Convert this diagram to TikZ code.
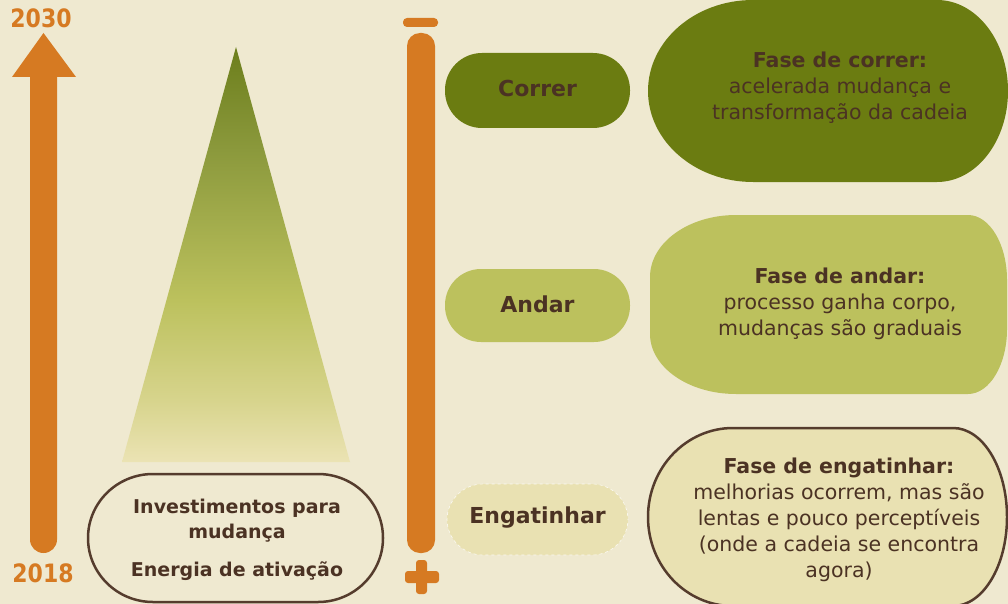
\documentclass[tikz,border=0pt]{standalone}
\usepackage{fontspec}
\setmainfont{DejaVu Sans}
\definecolor{bg}{RGB}{239,233,208}
\definecolor{orng}{RGB}{214,122,34}
\definecolor{dgreen}{RGB}{107,124,17}
\definecolor{lgreen}{RGB}{188,193,93}
\definecolor{beige}{RGB}{233,225,178}
\definecolor{txt}{RGB}{75,50,35}
\definecolor{edge}{RGB}{85,60,45}
\pgfdeclareverticalshading{energy}{100bp}{
  rgb(0bp)=(0.922,0.890,0.706);
  rgb(25bp)=(0.922,0.890,0.706);
  rgb(32.5bp)=(0.843,0.831,0.549);
  rgb(44.5bp)=(0.737,0.757,0.365);
  rgb(62.6bp)=(0.545,0.600,0.235);
  rgb(75bp)=(0.424,0.494,0.110);
  rgb(100bp)=(0.424,0.494,0.110)}
\begin{document}
\begin{tikzpicture}[x=1pt,y=-1pt,
  year/.style={text=orng,font=\bfseries\fontsize{22}{26}\selectfont,inner sep=0pt},
  pilltext/.style={text=txt,font=\bfseries\fontsize{22}{26}\selectfont,inner sep=0pt},
  boxtext/.style={text=txt,font=\fontsize{20.5}{26}\selectfont,align=center,inner sep=0pt},
  lefttext/.style={text=txt,font=\bfseries\fontsize{19}{25}\selectfont,align=center,inner sep=0pt}]
\useasboundingbox (0,0) rectangle (1008,604);
\fill[bg] (0,0) rectangle (1008,604);
\clip (0,0) rectangle (1008,604);

% time arrow
\fill[orng] (30,70) [rounded corners=13.5pt] -- (30,553) -- (57,553) [sharp corners] -- (57,70) -- cycle;
\fill[orng] (12,77) -- (43.5,33) -- (76,77) -- cycle;
\node[year] (y2030) at (41,18) {\scalebox{1}[1.15]{2030}};
\node[year] (y2018) at (43,573) {\scalebox{1}[1.15]{2018}};

% energy triangle
\shade[shading=energy] (236,47) -- (350,462) -- (122,462) -- cycle;

% bottom-left stadium
\draw[edge,line width=2.5pt,fill=bg]
  (153,474) -- (318,474)
  arc[start angle=270,end angle=360,x radius=65,y radius=64]
  arc[start angle=0,end angle=90,x radius=65,y radius=64]
  -- (153,602)
  arc[start angle=90,end angle=180,x radius=65,y radius=64]
  arc[start angle=180,end angle=270,x radius=65,y radius=64] -- cycle;
\node[lefttext] (invest) at (237,520.5) {Investimentos para\\mudança};
\node[lefttext] (energia) at (237,571) {Energia de ativação};

% vertical scale bar
\fill[orng,rounded corners=13pt] (407,33) rectangle (435,553);
\fill[orng,rounded corners=4pt] (403,18) rectangle (438,27);
\fill[orng,rounded corners=3pt] (405,571) rectangle (439,583);
\fill[orng,rounded corners=3pt] (416,560) rectangle (427,594);

% left pills
\fill[dgreen,rounded corners=37pt] (445,53) rectangle (630,128);
\node[pilltext] (correr) at (537.5,88) {Correr};
\fill[lgreen,rounded corners=36pt] (445,269) rectangle (630,342);
\node[pilltext] (andar) at (537.5,304) {Andar};
\filldraw[fill=beige,draw=white,draw opacity=0.8,dashed,line width=0.6pt,rounded corners=36pt] (447,484) rectangle (628,555);
\node[pilltext] (engatinhar) at (537.5,518) {Engatinhar};

% right boxes
\fill[dgreen]
  (753,0) -- (937,0)
  arc[start angle=270,end angle=360,x radius=71,y radius=91]
  arc[start angle=0,end angle=90,x radius=71,y radius=91]
  -- (753,182)
  arc[start angle=90,end angle=180,x radius=105,y radius=91]
  arc[start angle=180,end angle=270,x radius=105,y radius=91] -- cycle;
\node[boxtext] (fcorrer) at (840,88) {\textbf{Fase de correr:}\\acelerada mudança e\\transformação da cadeia};

\fill[lgreen]
  (736,215) -- (968,215)
  arc[start angle=270,end angle=360,x radius=39,y radius=65]
  -- (1007,329)
  arc[start angle=0,end angle=90,x radius=39,y radius=65]
  -- (736,394)
  arc[start angle=90,end angle=180,x radius=86,y radius=60]
  -- (650,277)
  arc[start angle=180,end angle=270,x radius=86,y radius=62] -- cycle;
\node[boxtext] (fandar) at (840,303.5) {\textbf{Fase de andar:}\\processo ganha corpo,\\mudanças são graduais};

\draw[edge,line width=2.5pt,fill=beige]
  (733,428) -- (953,428)
  arc[start angle=270,end angle=360,x radius=54,y radius=89]
  arc[start angle=0,end angle=90,x radius=54,y radius=89]
  -- (733,606)
  arc[start angle=90,end angle=180,x radius=85,y radius=89]
  arc[start angle=180,end angle=270,x radius=85,y radius=89] -- cycle;
\node[boxtext] (fengat) at (839,520) {\textbf{Fase de engatinhar:}\\melhorias ocorrem, mas são\\lentas e pouco perceptíveis\\(onde a cadeia se encontra\\agora)};
\end{tikzpicture}
\end{document}
